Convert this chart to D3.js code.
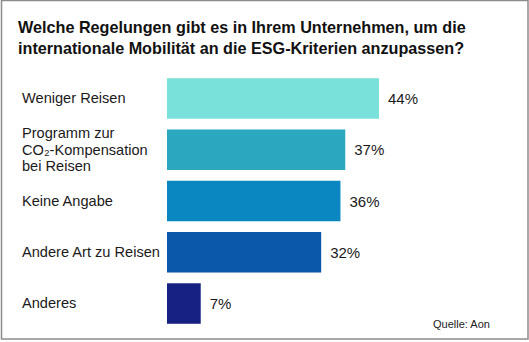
<!DOCTYPE html>
<html lang="de">
<head>
<meta charset="utf-8">
<style type="text/css">
    body { margin: 0; background: #fff; }
    svg { display: block; font-family: "Liberation Sans", Arial, Helvetica, sans-serif; }
    .title { font-weight: bold; font-size: 16.2px; fill: #111; }
    .cat { font-size: 14.6px; fill: #1a1a1a; }
    .val { font-size: 15px; fill: #1a1a1a; }
    .source { font-size: 11px; fill: #222; }
</style>
</head>
<body>
<svg width="529" height="342"></svg>
<script src="https://d3js.org/d3.v7.min.js"></script>
<script type="text/javascript">

    // chart data
    var categories = ["Weniger Reisen", "Programm zur|CO₂-Kompensation|bei Reisen", "Keine Angabe", "Andere Art zu Reisen", "Anderes"];
    var values = [44, 37, 36, 32, 7];
    var barColors = ["#79e1d9", "#2ba8bf", "#0a87c0", "#0b57aa", "#162184"];
    var titleLines = ["Welche Regelungen gibt es in Ihrem Unternehmen, um die",
                      "internationale Mobilität an die ESG-Kriterien anzupassen?"];
    var sourceText = "Quelle: Aon";

    var svg = d3.select("svg"),
        width = +svg.attr("width"),
        height = +svg.attr("height");

    // frame
    svg.append("rect")
        .attr("x", 1.5).attr("y", 0.5)
        .attr("width", 526.5).attr("height", 338.5)
        .attr("fill", "none")
        .attr("stroke", "#8c8c8c")
        .attr("stroke-width", 1.5);

    svg.selectAll(".title")
        .data(titleLines)
        .enter()
        .append("text")
        .attr("class", "title")
        .attr("x", 18)
        .attr("y", function (d, i) { return 33 + i * 21; })
        .text(function (d) { return d; });

    var x = d3.scaleLinear().domain([0, 44]).range([167, 379]);
    var y = d3.scaleBand()
        .domain(d3.range(categories.length))
        .range([69, 333])
        .paddingInner(0.21)
        .paddingOuter(0.18);

    var rows = svg.selectAll(".row")
        .data(values)
        .enter()
        .append("g")
        .attr("class", "row");

    rows.append("rect")
        .attr("x", x(0))
        .attr("y", function (d, i) { return y(i); })
        .attr("width", function (d) { return x(d) - x(0); })
        .attr("height", y.bandwidth())
        .attr("fill", function (d, i) { return barColors[i]; });

    rows.append("text")
        .attr("class", "val")
        .attr("x", function (d) { return x(d) + 9; })
        .attr("y", function (d, i) { return y(i) + y.bandwidth() / 2; })
        .attr("dy", "0.38em")
        .text(function (d) { return d + "%"; });

    // category labels, one text per line, multi-line ones split on "|"
    var lineH = 16.3;
    rows.each(function (d, i) {
        var lines = categories[i].split("|");
        var cy = y(i) + y.bandwidth() / 2;
        var top = cy - (lines.length - 1) * lineH / 2 + 4.8;
        d3.select(this).selectAll(".cat")
            .data(lines)
            .enter()
            .append("text")
            .attr("class", "cat")
            .attr("x", 22)
            .attr("y", function (l, k) { return top + k * lineH; })
            .text(function (l) { return l; });
    });

    svg.append("text")
        .attr("class", "source")
        .attr("x", 433)
        .attr("y", 328)
        .text(sourceText);

</script>
</body>
</html>
